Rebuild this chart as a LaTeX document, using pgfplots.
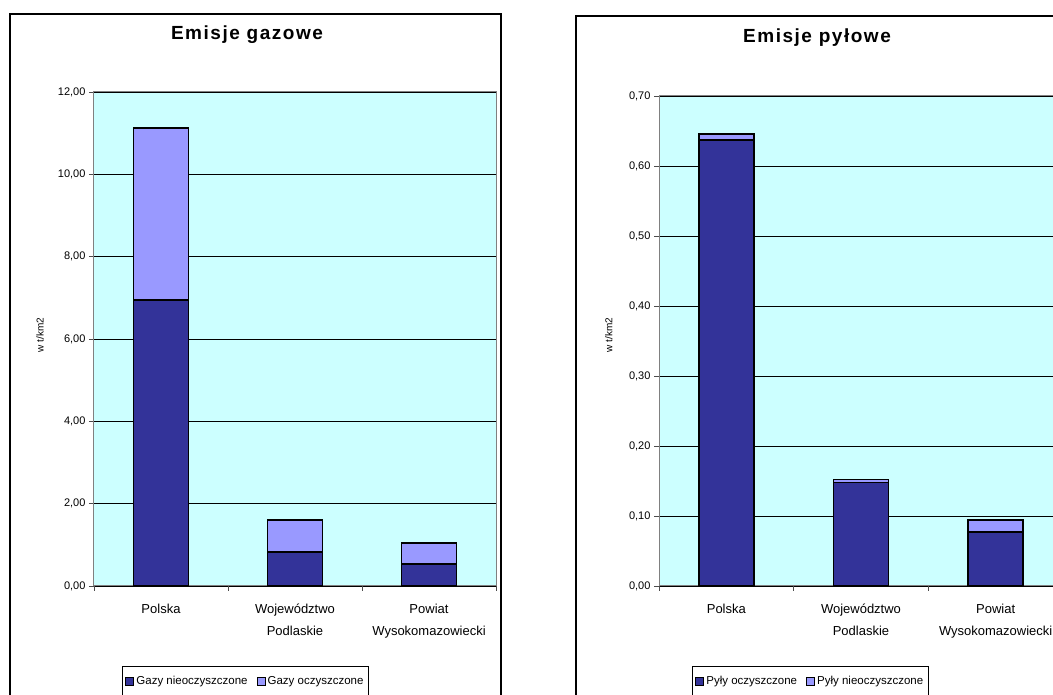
\documentclass[border=0pt]{standalone}
\usepackage{fontspec}
\setmainfont{Liberation Sans}
\newfontfamily\titlefont[LetterSpace=8]{Liberation Sans}
\usepackage{pgfplots}
\pgfplotsset{compat=1.18}
\definecolor{darkbar}{HTML}{333399}
\definecolor{lightbar}{HTML}{9999FF}
\definecolor{plotbg}{HTML}{CCFFFF}
\definecolor{framegray}{HTML}{808080}

\pgfplotsset{
  sqlegend/.style={legend image code/.code={\draw[##1,draw=black,line width=1pt] (0pt,-4pt) rectangle (8pt,4pt);}},
  excelbars/.style={
    scale only axis,
    ybar stacked,
    bar width=55pt,
    xmin=-0.5, xmax=2.5,
    ymin=0,
    axis background/.style={fill=plotbg},
    axis line style={draw=framegray, line width=1pt},
    ymajorgrids,
    grid style={draw=black, line width=0.7pt},
    tick align=outside,
    tick pos=left,
    major tick length=5pt,
    tick style={draw=black!70, line width=0.8pt},
    xtick={-0.5,0.5,1.5,2.5},
    xticklabels={,,,},
    extra x ticks={0,1,2},
    extra x tick labels={{\strut Polska},{\strut Województwo\\Podlaskie},{\strut Powiat\\Wysokomazowiecki}},
    extra x tick style={major tick length=0pt},
    x tick label style={font=\fontsize{13}{22}\selectfont, align=center, yshift=-9pt},
    y tick label style={font=\fontsize{11}{13}\selectfont},
    /pgf/number format/assume math mode=true,
    yticklabel style={/pgf/number format/.cd, fixed, fixed zerofill, precision=2, use comma},
    ylabel style={font=\fontsize{10.5}{12}\selectfont},
    legend columns=2,
    legend cell align=left,
    legend style={draw=black, line width=0.8pt, fill=white,
      font=\fontsize{11.5}{13}\selectfont, inner ysep=8pt, inner xsep=3pt,
      /tikz/every even column/.append style={column sep=7pt}},
    every axis plot/.append style={draw=black, line width=1.5pt},
  }
}

\begin{document}
\begin{tikzpicture}
\useasboundingbox (0pt,0pt) rectangle (1053pt,695pt);
\clip (0pt,0pt) rectangle (1053pt,695pt);
\fill[white] (0pt,0pt) rectangle (1053pt,695pt);

% outer chart boxes
\draw[black, line width=1.5pt] (10pt,681pt) rectangle (501pt,-10pt);
\draw[black, line width=1.5pt] (576pt,679pt) rectangle (1070pt,-10pt);

% titles
\node[anchor=base, inner sep=0pt] at (247pt,655pt) {\titlefont\fontsize{19}{22}\selectfont\bfseries Emisje gazowe};
\node[anchor=base, inner sep=0pt] at (817pt,652pt) {\titlefont\fontsize{19}{22}\selectfont\bfseries Emisje pyłowe};

% left chart
\begin{axis}[excelbars,
  at={(94pt,109pt)}, anchor=south west,
  width=402pt, height=494pt,
  ymax=12,
  ytick={0,2,4,6,8,10,12},
  ylabel={w t/km2},
  every axis y label/.style={at={(axis description cs:-0.134,0.508)}, rotate=90, anchor=center},
  legend style={at={(axis description cs:0.0697,-0.1619)}, anchor=north west},
]
\addplot[fill=darkbar, sqlegend] coordinates {(0,6.95) (1,0.83) (2,0.53)};
\addplot[fill=lightbar, sqlegend] coordinates {(0,4.17) (1,0.77) (2,0.51)};
\legend{Gazy nieoczyszczone, Gazy oczyszczone}
\end{axis}

% right chart
\begin{axis}[excelbars,
  at={(659pt,109pt)}, anchor=south west,
  width=404pt, height=490pt,
  ymax=0.7,
  ytick={0,0.1,0.2,0.3,0.4,0.5,0.6,0.7},
  ylabel={w t/km2},
  every axis y label/.style={at={(axis description cs:-0.124,0.512)}, rotate=90, anchor=center},
  legend style={at={(axis description cs:0.0817,-0.1633)}, anchor=north west},
]
\addplot[fill=darkbar, sqlegend] coordinates {(0,0.637) (1,0.148) (2,0.077)};
\addplot[fill=lightbar, sqlegend] coordinates {(0,0.009) (1,0.004) (2,0.017)};
\legend{Pyły oczyszczone, Pyły nieoczyszczone}
\end{axis}
\end{tikzpicture}
\end{document}
